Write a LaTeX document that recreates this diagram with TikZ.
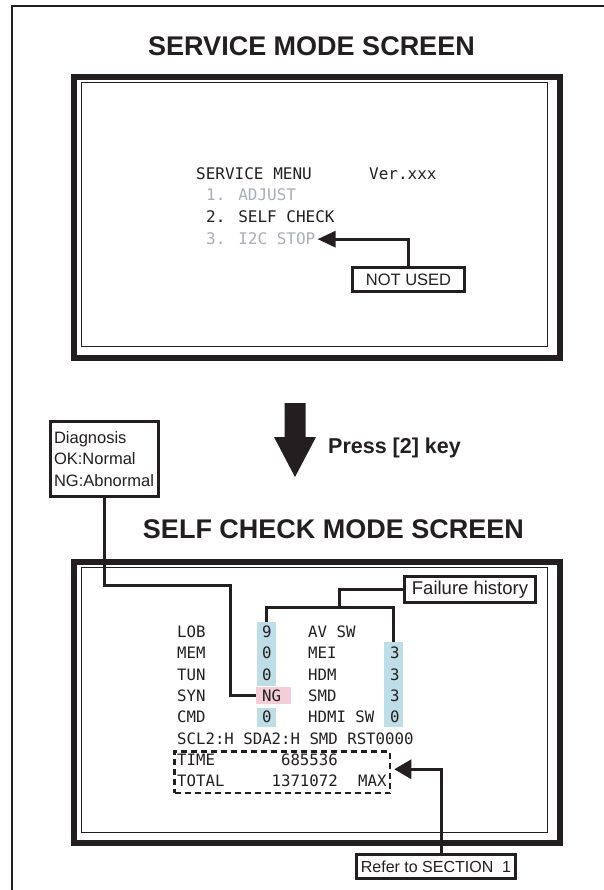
\documentclass[tikz,border=0pt]{standalone}
\usepackage{fontspec}
\setmainfont{Liberation Sans}
\newfontfamily\scrmono{DejaVu Sans Mono}
\usetikzlibrary{arrows.meta}
\definecolor{ink}{HTML}{231F20}
\definecolor{dimtxt}{HTML}{A9AEB8}
\definecolor{hlblue}{HTML}{BEDDE6}
\definecolor{hlpink}{HTML}{F3CDD8}
\begin{document}
\begin{tikzpicture}[x=1pt,y=-1pt,line join=miter,
  frameline/.style={draw=ink,line width=2pt},
  thickbox/.style={draw=ink,line width=6pt,inner sep=0pt,anchor=north west},
  thinbox/.style={draw=ink,line width=1.4pt,inner sep=0pt,anchor=north west},
  callout/.style={draw=ink,line width=2.8pt,fill=white,inner sep=0pt,text=ink,
                  font=\fontsize{16.5}{21.5}\selectfont},
  conn/.style={draw=ink,line width=3pt},
  scrA/.style={inner sep=0pt,anchor=base west,text=ink,font=\scrmono\fontsize{16}{18}\selectfont},
  scrB/.style={inner sep=0pt,anchor=base west,text=ink,font=\scrmono\fontsize{15.7}{18}\selectfont},
  scrBr/.style={scrB,anchor=base east},
  titletext/.style={inner sep=0pt,anchor=base,text=ink,font=\bfseries\fontsize{27}{30}\selectfont},
  hlb/.style={inner sep=0pt,fill=hlblue,anchor=north west},
  hlp/.style={inner sep=0pt,fill=hlpink,anchor=north west}]
\useasboundingbox (0,0) rectangle (604,890);

% outer frame (top and left edges)
\draw[frameline] (12,890) -- (12,6) -- (604,6);

% titles
\node[titletext] (t1) at (311.5,56) {SERVICE MODE SCREEN};
\node[titletext] (t2) at (333.5,538) {SELF CHECK MODE SCREEN};

% screen 1
\node[thickbox,minimum width=486pt,minimum height=281pt] (s1) at (71,74) {};
\node[thinbox,minimum width=466pt,minimum height=264pt] (s1in) at (81,82) {};
\node[scrA] (smenu) at (196,180) {SERVICE MENU};
\node[scrA] (ver) at (369,180) {Ver.xxx};
\node[scrA,text=dimtxt] (adj) at (206,201) {1. ADJUST};
\node[scrA] (selfc) at (206,223) {2. SELF CHECK};
\node[scrA,text=dimtxt] (i2c) at (206,245) {3. I2C STOP};
\node[callout,minimum width=112.2pt,minimum height=24.2pt] (nu) at (408.5,279.5) {NOT USED};
\draw[conn,-{Triangle[length=18pt,width=16pt]}] (nu.north) |- ([xshift=2pt]i2c.east);

% big arrow and label
\fill[ink] (284.5,403) -- (305.5,403) -- (305.5,437) -- (316,437) -- (295,477)
  -- (274,437) -- (284.5,437) -- cycle;
\node[inner sep=0pt,anchor=base west,text=ink,font=\bfseries\fontsize{21.5}{24}\selectfont] (press) at (328,453) {Press [2] key};

% diagnosis callout
\node[callout,minimum width=108.2pt,minimum height=75.2pt,text width=101pt,align=left,
      inner xsep=3.6pt] (diag) at (104.5,459) {Diagnosis\\OK:Normal\\NG:Abnormal};

% screen 2
\node[thickbox,minimum width=486pt,minimum height=281pt] (s2) at (71,559) {};
\node[thinbox,minimum width=466pt,minimum height=265pt] (s2in) at (81,567) {};

% highlights
\node[hlb,minimum width=19pt,minimum height=64pt] (hlA) at (257,622) {};
\node[hlp,minimum width=35pt,minimum height=17.5pt] (ng) at (256,686.5) {};
\node[hlb,minimum width=19pt,minimum height=19pt] (hlC) at (257,708) {};
\node[hlb,minimum width=19pt,minimum height=85pt] (hlB) at (384,642) {};

% rows
\node[scrB] (r1a) at (177,637.5) {LOB};
\node[scrB] (r1b) at (262,637.5) {9};
\node[scrB] (r1c) at (308,637.5) {AV SW};
\node[scrB] (r2a) at (177,658.85) {MEM};
\node[scrB] (r2b) at (262,658.85) {0};
\node[scrB] (r2c) at (308,658.85) {MEI};
\node[scrB] (r2d) at (390,658.85) {3};
\node[scrB] (r3a) at (177,680.2) {TUN};
\node[scrB] (r3b) at (262,680.2) {0};
\node[scrB] (r3c) at (308,680.2) {HDM};
\node[scrB] (r3d) at (390,680.2) {3};
\node[scrB] (r4a) at (177,701.55) {SYN};
\node[scrB] (r4b) at (262,701.55) {NG};
\node[scrB] (r4c) at (308,701.55) {SMD};
\node[scrB] (r4d) at (390,701.55) {3};
\node[scrB] (r5a) at (177,722.9) {CMD};
\node[scrB] (r5b) at (262,722.9) {0};
\node[scrB] (r5c) at (308,722.9) {HDMI SW};
\node[scrB] (r5d) at (390,722.9) {0};
\node[scrB] (r6) at (177,744.25) {SCL2:H SDA2:H SMD RST0000};
\node[scrB] (r7a) at (177,765.6) {TIME};
\node[scrBr] (r7b) at (338,765.6) {685536};
\node[scrB] (r8a) at (177,786.95) {TOTAL};
\node[scrBr] (r8b) at (338,786.95) {1371072};
\node[scrB] (r8c) at (358,786.95) {MAX};

% dashed box
\node[draw=ink,line width=2.5pt,dash pattern=on 6pt off 4pt,inner sep=0pt,anchor=north west,
      minimum width=215.5pt,minimum height=41.5pt] (dash) at (173.25,750.25) {};

% failure history callout
\node[callout,font=\fontsize{18.5}{22}\selectfont,minimum width=131.2pt,minimum height=26.2pt] (fh) at (470,589.5) {Failure history};
\coordinate (fsplit) at (339,607);
\draw[conn] (fh.west) -| (fsplit);
\draw[conn] (hlA.north) -- (hlA.north |- fsplit) -| (hlB.north);

% diagnosis connector
\draw[conn] (diag.south) |- (230,585) |- (ng.west);

% refer callout
\node[callout,font=\fontsize{16}{20}\selectfont,minimum width=159.2pt,minimum height=24.2pt] (ref) at (436,866.5) {Refer to SECTION\ \ 1};
\draw[conn,-{Triangle[length=17pt,width=19pt]}] ([xshift=5pt]ref.north) |- ([xshift=3pt,yshift=3pt]dash.east);
\end{tikzpicture}
\end{document}
